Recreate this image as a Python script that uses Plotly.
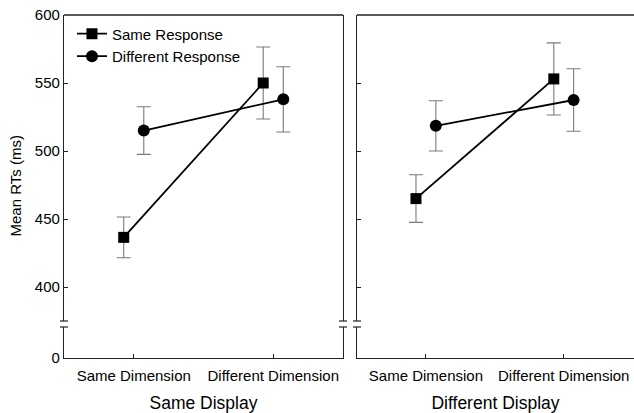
import plotly.graph_objects as go

conditions = ["Same Dimension", "Different Dimension"]
panels = ["Same Display", "Different Display"]

# Left panel (Same Display)
same_resp_sd = [436.5, 550.0]
same_resp_sd_err = [15.0, 26.5]
diff_resp_sd = [515.0, 538.0]
diff_resp_sd_err = [17.5, 24.0]

# Right panel (Different Display)
same_resp_dd = [465.0, 553.0]
same_resp_dd_err = [17.5, 26.5]
diff_resp_dd = [518.5, 537.5]
diff_resp_dd_err = [18.5, 23.0]

y_ticks_upper = [400, 450, 500, 550, 600]

FONT = "Liberation Sans, Arial, sans-serif"
OFF = 0.072
xs_sq = [1 - OFF, 2 - OFF]
xs_ci = [1 + OFF, 2 + OFF]

fig = go.Figure()

def add_series(xref, yref, ys, err, xs, symbol, name, show):
    fig.add_trace(go.Scatter(
        x=xs, y=ys, xaxis=xref, yaxis=yref, mode="lines+markers", name=name,
        showlegend=show, legendgroup=name,
        line=dict(color="black", width=1.8),
        marker=dict(symbol=symbol, size=11 if symbol == "square" else 12, color="black"),
        error_y=dict(type="data", array=err, visible=True, color="#7a7a7a", thickness=1.1, width=7),
    ))

add_series("x", "y", same_resp_sd, same_resp_sd_err, xs_sq, "square", "Same Response", True)
add_series("x", "y", diff_resp_sd, diff_resp_sd_err, xs_ci, "circle", "Different Response", True)
add_series("x2", "y3", same_resp_dd, same_resp_dd_err, xs_sq, "square", "Same Response", False)
add_series("x2", "y3", diff_resp_dd, diff_resp_dd_err, xs_ci, "circle", "Different Response", False)

# invisible traces so the lower (broken) axes are drawn
for xr, yr in [("x", "y2"), ("x2", "y4")]:
    fig.add_trace(go.Scatter(x=[1], y=[0], xaxis=xr, yaxis=yr, mode="markers",
                             marker=dict(opacity=0), showlegend=False, hoverinfo="skip"))

W, H = 634, 413
ML, MR, MT, MB = 64, 0, 15, 55
pw = W - ML - MR
ph = H - MT - MB

left_dom = [0, 279 / pw]
right_dom = [293 / pw, 1.0]
up_dom = [(358 - 321) / ph, 1.0]
low_dom = [0, (358 - 327) / ph]

axis_common = dict(showgrid=False, zeroline=False, linecolor="#222", linewidth=1.3,
                   ticks="inside", ticklen=4, tickcolor="#222", automargin=False,
                   tickfont=dict(family=FONT, size=15, color="black"))

fig.update_layout(
    width=W, height=H, margin=dict(l=ML, r=MR, t=MT, b=MB, autoexpand=False),
    plot_bgcolor="white", paper_bgcolor="white",
    font=dict(family=FONT, color="black"),
    xaxis=dict(domain=left_dom, range=[0.5, 2.5], anchor="y2", showline=True,
               tickvals=[1, 2], ticktext=conditions, ticklabelstandoff=4,
               title=dict(text=panels[0], font=dict(size=17.5), standoff=15), **axis_common),
    xaxis2=dict(domain=right_dom, range=[0.5, 2.51], anchor="y4", showline=True,
                tickvals=[1, 2], ticktext=conditions, ticklabelstandoff=4,
                title=dict(text=panels[1], font=dict(size=17.5), standoff=15), **axis_common),
    yaxis=dict(domain=up_dom, range=[375, 600], anchor="x", showline=True, mirror=True,
               tickvals=y_ticks_upper, **axis_common),
    yaxis2=dict(domain=low_dom, range=[0, 22.8], anchor="x", showline=True, mirror=True,
                tickvals=[0], **axis_common),
    yaxis3=dict(domain=up_dom, range=[375, 600], anchor="x2", showline=True,
                tickvals=y_ticks_upper, showticklabels=False, **axis_common),
    yaxis4=dict(domain=low_dom, range=[0, 22.8], anchor="x2", showline=True,
                tickvals=[0], showticklabels=False, **axis_common),
    legend=dict(x=0.014, y=0.993, xanchor="left", yanchor="top", bgcolor="rgba(0,0,0,0)",
                font=dict(family=FONT, size=15), tracegroupgap=0, itemwidth=30),
    annotations=[dict(text="Mean RTs (ms)", textangle=-90, xref="paper", yref="paper",
                      x=-(ML - 15) / pw, y=0.5, xanchor="center", yanchor="middle",
                      showarrow=False, font=dict(family=FONT, size=15))],
)

shapes = []
# top borders
for dom in (left_dom, right_dom):
    shapes.append(dict(type="line", xref="paper", yref="paper", x0=dom[0], x1=dom[1],
                       y0=1, y1=1, line=dict(color="#222", width=1.3)))
# break marks
for xpos in (left_dom[0], left_dom[1], right_dom[0]):
    for yv in (up_dom[0], low_dom[1]):
        shapes.append(dict(type="line", xref="paper", yref="paper",
                           x0=xpos - 4 / pw, x1=xpos + 4 / pw, y0=yv, y1=yv,
                           line=dict(color="#222", width=1.2)))
fig.update_layout(shapes=shapes)

fig.write_html("out.html", config={"displayModeBar": False},
               post_script="document.body.style.margin='0';document.body.style.overflow='hidden';")
